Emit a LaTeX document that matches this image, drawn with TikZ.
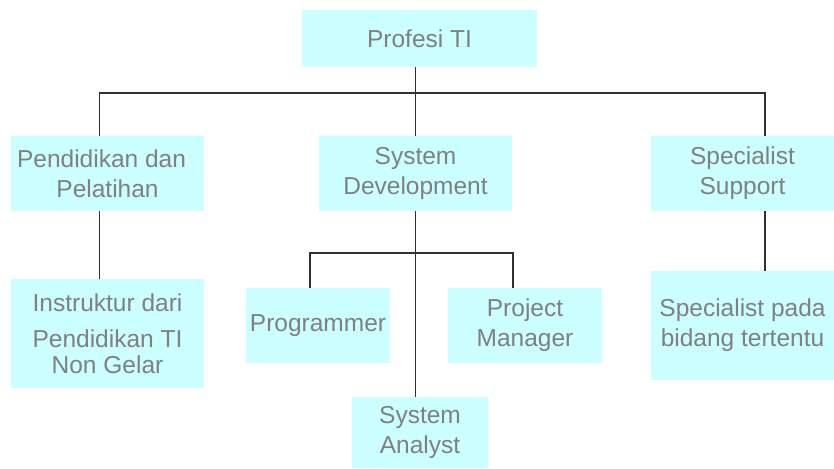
\documentclass[tikz,border=0pt]{standalone}
\usepackage{fontspec}
\setmainfont{Liberation Sans}
\usepackage{xcolor}
\definecolor{boxcyan}{HTML}{CCFFFF}
\definecolor{boxtext}{HTML}{808080}
\definecolor{linegray}{HTML}{303030}
\begin{document}
\begin{tikzpicture}[x=1pt,y=-1pt,
    box/.style={fill=boxcyan,text=boxtext,align=center,inner sep=0pt,
                font=\fontsize{24.5}{30}\selectfont},
    conn/.style={draw=linegray,line width=1.3pt}]
  \useasboundingbox (0,0) rectangle (834,468);

  % top level ------------------------------------------------------------------
  \node[box,minimum width=235,minimum height=57] (top) at (419.5,38.5) {Profesi TI};

  % second level ---------------------------------------------------------------
  \node[box,minimum width=193,minimum height=75] (pend) at (107.5,173.5)
        {Pendidikan dan\hspace*{12pt}\\Pelatihan};
  \node[box,minimum width=193,minimum height=75] (sysdev) at (415.5,173.5)
        {System\\Development};
  \node[box,minimum width=183,minimum height=75] (spec) at (742.5,173.5)
        {Specialist\\Support};

  % third level ----------------------------------------------------------------
  \node[box,minimum width=193,minimum height=109] (instr) at (107.5,333.5)
        {Instruktur dari\\[6pt]Pendidikan TI\\[-4pt]Non Gelar};
  \node[box,minimum width=144,minimum height=75] (prog) at (318,325.5)
        {Programmer};
  \node[box,minimum width=154,minimum height=75] (pm) at (525,325.5)
        {Project\\Manager};
  \node[box,minimum width=136,minimum height=71] (sa) at (420,432.5)
        {System\\Analyst};
  \node[box,minimum width=183,minimum height=109] (spcpada) at (742.5,325.5)
        {Specialist pada\\bidang tertentu};

  % connectors -----------------------------------------------------------------
  \coordinate (hub) at (sysdev.north |- 0,93);
  \coordinate (subhub) at (sysdev.south |- 0,253);

  \draw[conn] (top.south -| sysdev.north) -- (sysdev.north);
  \draw[conn] ([xshift=-8pt]pend.north) |- (hub) -| ([xshift=22.5pt]spec.north);
  \draw[conn] ([xshift=-8pt]pend.south) -- ([xshift=-8pt]instr.north);
  \draw[conn] ([xshift=22.5pt]spec.south) -- ([xshift=22.5pt]spcpada.north);

  \draw[conn] (sysdev.south) -- (sysdev.south |- sa.north);
  \draw[conn] ([xshift=-8pt]prog.north) |- (subhub) -| ([xshift=-12pt]pm.north);
\end{tikzpicture}
\end{document}
